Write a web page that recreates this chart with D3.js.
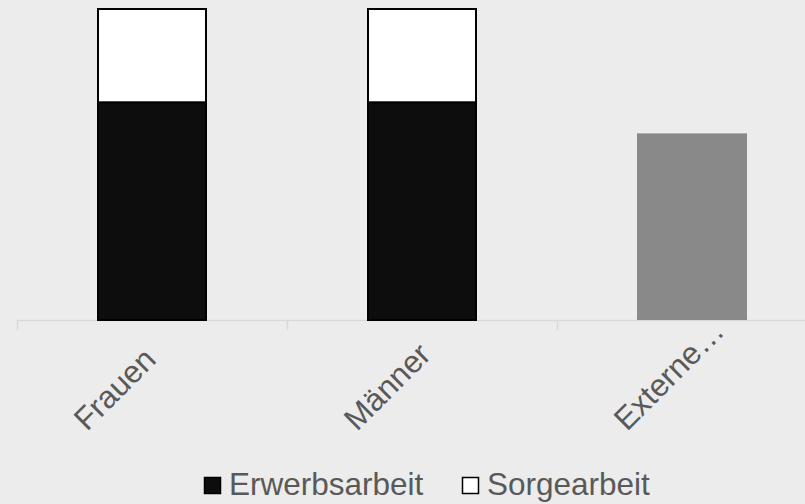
<!DOCTYPE html>
<html>
<head>
<meta charset="utf-8">
<style>
  body { margin: 0; background: #ececec; }
  svg { display: block; }
  .tick-label { font-family: "Liberation Sans", Arial, sans-serif; font-size: 31.5px; fill: #595959; }
  .legend text { font-family: "Liberation Sans", Arial, sans-serif; font-size: 31.5px; fill: #595959; }
</style>
</head>
<body>
<script src="https://cdn.jsdelivr.net/npm/d3@7"></script>
<script>
// data
var categories = ["Frauen", "Männer", "Externe…"];
var erwerbsarbeit = [7, 7, 0];
var sorgearbeit = [3, 3, 0];
var externe = [0, 0, 6];
var seriesNames = ["Erwerbsarbeit", "Sorgearbeit"];

var W = 805, H = 504;
var left = 17, bandW = 270, axisY = 320, topY = 9;

var svg = d3.select("body").append("svg")
    .attr("width", W)
    .attr("height", H);

var x = d3.scaleBand()
    .domain(categories)
    .range([left, left + bandW * categories.length])
    .paddingInner(0.5926)
    .paddingOuter(0.2963);

var y = d3.scaleLinear()
    .domain([0, 10])
    .range([axisY, topY]);

var bw = x.bandwidth();

// axis line + ticks
var ax = svg.append("g");
ax.append("line")
    .attr("x1", left).attr("x2", W)
    .attr("y1", axisY + 0.5).attr("y2", axisY + 0.5)
    .attr("stroke", "#d9d9d9").attr("stroke-width", 1.5);
d3.range(categories.length + 1).forEach(function(i) {
  var tx = left + i * bandW;
  ax.append("line")
      .attr("x1", tx + 0.5).attr("x2", tx + 0.5)
      .attr("y1", axisY).attr("y2", axisY + 10)
      .attr("stroke", "#d9d9d9").attr("stroke-width", 1.5);
});

// stacked bars
var rows = categories.map(function(c, i) {
  return {cat: c, e: erwerbsarbeit[i], s: sorgearbeit[i], x: externe[i]};
});

rows.forEach(function(d) {
  if (d.e > 0) {
    svg.append("rect")
        .attr("x", x(d.cat) + 1).attr("y", y(d.e))
        .attr("width", bw - 2).attr("height", y(0) - y(d.e))
        .attr("fill", "#0d0d0d")
        .attr("stroke", "#000").attr("stroke-width", 2);
  }
  if (d.s > 0) {
    svg.append("rect")
        .attr("x", x(d.cat) + 1).attr("y", y(d.e + d.s))
        .attr("width", bw - 2).attr("height", y(d.e) - y(d.e + d.s))
        .attr("fill", "#fff")
        .attr("stroke", "#000").attr("stroke-width", 2);
  }
  if (d.x > 0) {
    svg.append("rect")
        .attr("x", x(d.cat)).attr("y", y(d.x))
        .attr("width", bw).attr("height", y(0) - y(d.x))
        .attr("fill", "#898989");
  }
});

// category labels (start-aligned, rotated)
svg.selectAll(".tick-label")
    .data(categories)
  .enter().append("text")
    .attr("class", "tick-label")
    .attr("text-anchor", "start")
    .attr("transform", function(d) {
      var cx = x(d) + bw / 2 - 65, cy = 432;
      return "translate(" + cx + "," + cy + ") rotate(-45)";
    })
    .text(function(d) { return d; });

// legend
var lg = svg.append("g").attr("class", "legend");
var legendX = [204, 462];
var legendFill = ["#0d0d0d", "#fff"];
seriesNames.forEach(function(n, i) {
  lg.append("rect")
      .attr("x", legendX[i] + 0.5).attr("y", 477.5)
      .attr("width", 16).attr("height", 16)
      .attr("fill", legendFill[i])
      .attr("stroke", "#000").attr("stroke-width", 1.5);
  lg.append("text")
      .attr("x", legendX[i] + 25).attr("y", 495)
      .text(n);
});
</script>
</body>
</html>
